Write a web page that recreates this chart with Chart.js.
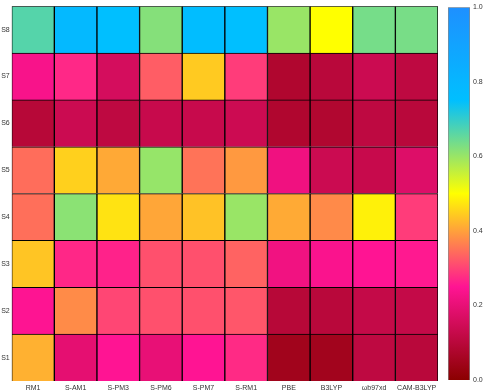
<!DOCTYPE html>
<html lang="en">
<head>
  <meta charset="UTF-8" />
  <title>Heatmap</title>
  <script src="https://cdn.jsdelivr.net/npm/chart.js"></script>
  <style>
    html, body { margin: 0; padding: 0; background: #fff; }
    #wrap { position: relative; width: 486px; height: 392px; }
    #main { position: absolute; left: 0; top: 0; width: 440px; height: 392px; }
    #bar { position: absolute; left: 440px; top: 0; width: 46px; height: 392px; }
  </style>
</head>
<body>
  <div id="wrap">
    <div id="main"><canvas id="heat"></canvas></div>
    <div id="bar"><canvas id="cbar"></canvas></div>
  </div>

  <script>
    const methods = ['RM1', 'S-AM1', 'S-PM3', 'S-PM6', 'S-PM7', 'S-RM1', 'PBE', 'B3LYP', 'ωb97xd', 'CAM-B3LYP'];
    const states = ['S1', 'S2', 'S3', 'S4', 'S5', 'S6', 'S7', 'S8'];
    const colorbarTicks = [0, 0.2, 0.4, 0.6, 0.8, 1.0];

    // one array per state, values in method order
    const s1 = [0.417, 0.193, 0.25, 0.20, 0.25, 0.273, 0.048, 0.05, 0.11, 0.10];
    const s2 = [0.248, 0.377, 0.303, 0.314, 0.314, 0.32, 0.095, 0.10, 0.122, 0.122];
    const s3 = [0.438, 0.27, 0.265, 0.314, 0.314, 0.334, 0.22, 0.24, 0.25, 0.255];
    const s4 = [0.347, 0.614, 0.47, 0.405, 0.435, 0.60, 0.41, 0.376, 0.485, 0.293];
    const s5 = [0.345, 0.45, 0.408, 0.603, 0.351, 0.391, 0.218, 0.138, 0.13, 0.177];
    const s6 = [0.095, 0.138, 0.11, 0.13, 0.13, 0.14, 0.08, 0.082, 0.11, 0.10];
    const s7 = [0.235, 0.271, 0.158, 0.328, 0.444, 0.293, 0.08, 0.10, 0.138, 0.11];
    const s8 = [0.667, 0.78, 0.75, 0.62, 0.76, 0.75, 0.60, 0.50, 0.634, 0.632];
    const values = [s1, s2, s3, s4, s5, s6, s7, s8];

    // colormap: darkred -> deeppink -> yellow -> deepskyblue -> dodgerblue
    const cmapStops = [
      [0.00, [139, 0, 0]],
      [0.25, [255, 20, 147]],
      [0.50, [255, 255, 0]],
      [0.75, [0, 191, 255]],
      [1.00, [30, 144, 255]]
    ];

    function cmap(v) {
      v = Math.max(0, Math.min(1, v));
      for (let i = 1; i < cmapStops.length; i++) {
        const [p1, c1] = cmapStops[i];
        const [p0, c0] = cmapStops[i - 1];
        if (v <= p1) {
          const t = (v - p0) / (p1 - p0);
          const c = c0.map((a, k) => Math.round(a + (c1[k] - a) * t));
          return `rgb(${c[0]},${c[1]},${c[2]})`;
        }
      }
    }

    Chart.defaults.font.family = '"Liberation Sans", Arial, sans-serif';
    Chart.defaults.font.size = 7;
    Chart.defaults.color = '#333';

    const noGrid = { display: false, drawTicks: false, tickLength: 0 };

    new Chart(document.getElementById('heat'), {
      type: 'bar',
      data: {
        labels: methods,
        datasets: values.map((row, i) => ({
          label: states[i],
          data: row.map(() => 1),
          backgroundColor: row.map(cmap),
          borderColor: '#000',
          borderWidth: 1,
          barPercentage: 1,
          categoryPercentage: 1
        }))
      },
      options: {
        responsive: true,
        maintainAspectRatio: false,
        animation: false,
        layout: { padding: { top: 3, right: 2 } },
        plugins: { legend: { display: false }, tooltip: { enabled: false } },
        scales: {
          x: {
            stacked: true,
            grid: noGrid,
            border: { display: false },
            ticks: { padding: 3, maxRotation: 0, autoSkip: false },
            afterFit: (s) => { s.height = 11; }
          },
          y: {
            stacked: true,
            min: 0,
            max: states.length,
            grid: noGrid,
            border: { display: false },
            afterBuildTicks: (s) => { s.ticks = states.map((_, i) => ({ value: i + 0.5 })); },
            ticks: { padding: 2, callback: (v, i) => states[i] },
            afterFit: (s) => { s.width = 11.7; }
          }
        }
      }
    });

    // colour bar
    new Chart(document.getElementById('cbar'), {
      type: 'bar',
      data: {
        labels: [''],
        datasets: [{
          data: [[0, 1]],
          backgroundColor: (ctx) => {
            const chart = ctx.chart;
            const y = chart.scales.y;
            if (!chart.chartArea || !y) return '#fff';
            const g = chart.ctx.createLinearGradient(0, y.getPixelForValue(0), 0, y.getPixelForValue(1));
            for (let i = 0; i <= 20; i++) g.addColorStop(i / 20, cmap(i / 20));
            return g;
          },
          borderColor: '#888',
          borderWidth: 1,
          barPercentage: 1,
          categoryPercentage: 1
        }]
      },
      options: {
        responsive: true,
        maintainAspectRatio: false,
        animation: false,
        layout: { padding: { top: 3, left: 8, bottom: 12 } },
        plugins: { legend: { display: false }, tooltip: { enabled: false } },
        scales: {
          x: { display: false },
          y: {
            position: 'right',
            min: 0,
            max: 1,
            grid: noGrid,
            border: { display: false },
            afterBuildTicks: (s) => { s.ticks = colorbarTicks.map(v => ({ value: v })); },
            ticks: { padding: 3, callback: (v) => v.toFixed(1) },
            afterFit: (s) => { s.width = 16; }
          }
        }
      }
    });
  </script>
</body>
</html>
